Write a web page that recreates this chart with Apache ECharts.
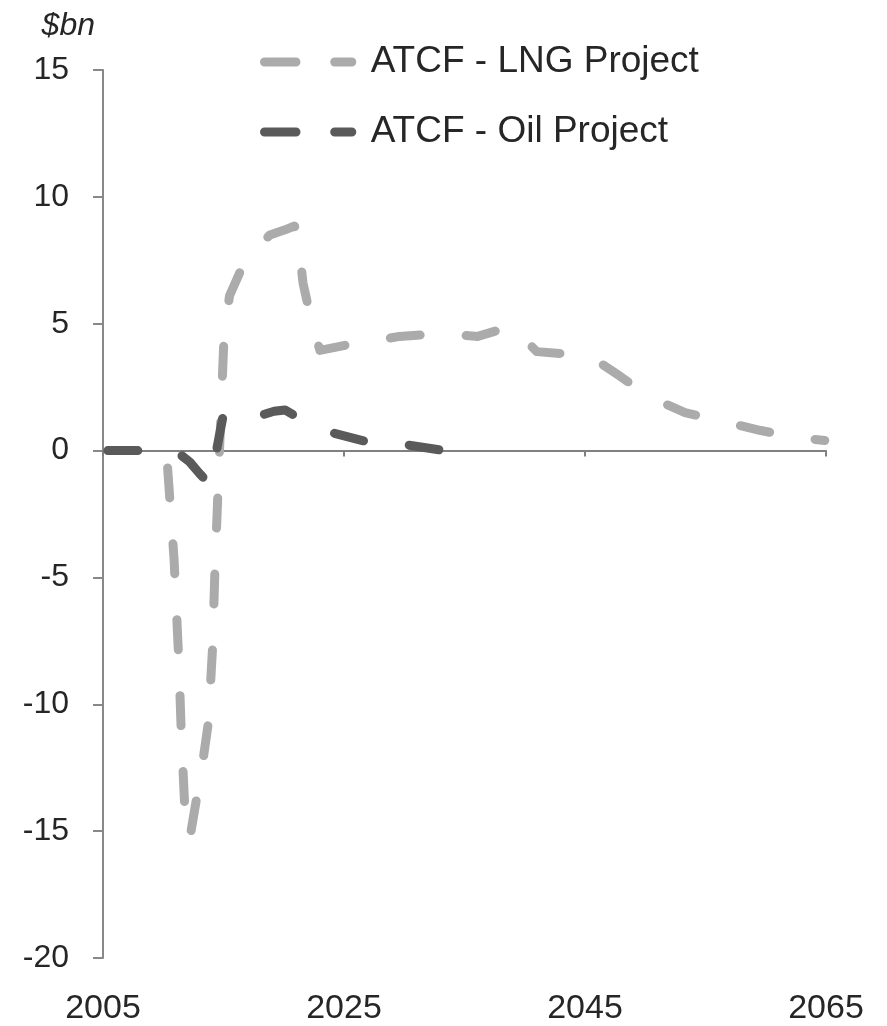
<!DOCTYPE html>
<html>
<head>
<meta charset="utf-8">
<script src="https://cdn.jsdelivr.net/npm/echarts@6/dist/echarts.min.js"></script>
<style>
html,body{margin:0;padding:0;background:#fff;}
#chart{width:887px;height:1026px;}
</style>
</head>
<body>
<div id="chart"></div>
<script>
const baseYear = 2005;
const xTickLabels = ['2005', '2025', '2045', '2065'];
const yTicks = [-20, -15, -10, -5, 0, 5, 10, 15];

const lngYears = [2010.0, 2010.35, 2010.9, 2011.3, 2011.5, 2011.8, 2012.2, 2013.3, 2013.75, 2014.1, 2014.3, 2014.55, 2014.8, 2015.05, 2015.5, 2016.8, 2018.85, 2020.1, 2020.9, 2021.2, 2021.6, 2022.2, 2023.0, 2025.1, 2026.7, 2029.6, 2033.0, 2036.1, 2038.9, 2041.0, 2045.0, 2045.5, 2047.7, 2050.4, 2053.3, 2056.4, 2059.5, 2062.7, 2064.9];
const lngValues = [0, -0.6, -4.3, -8.4, -11.2, -14.2, -15.3, -12.2, -10.7, -7.7, -4.5, -1.5, 1.6, 4.6, 6.1, 7.5, 8.5, 8.7, 8.85, 8.3, 6.6, 5.3, 3.95, 4.15, 4.25, 4.5, 4.6, 4.5, 4.9, 3.9, 3.75, 3.7, 3.0, 2.1, 1.5, 1.15, 0.8, 0.5, 0.4];

const oilYears = [2005.4, 2011.0, 2012.2, 2013.0, 2013.5, 2013.9, 2015.0, 2017.8, 2019.2, 2020.1, 2021.0, 2023.8, 2027.0, 2029.9, 2033.3];
const oilValues = [0, 0, -0.45, -0.9, -1.15, -1.3, 1.45, 1.35, 1.55, 1.6, 1.35, 0.73, 0.34, 0.25, 0.0];

const seriesNames = ['ATCF - LNG Project', 'ATCF - Oil Project'];
const seriesColors = ['#ababab', '#5a5a5a'];

function pairs(xs, ys) { return xs.map((x, i) => [x - baseYear, ys[i]]); }

const chart = echarts.init(document.getElementById('chart'), null, {renderer: 'canvas'});
const font = '"Liberation Sans", Arial, sans-serif';
const lineCommon = (color, offset) => ({color: color, width: 9, type: [30, 46], dashOffset: offset, cap: 'round', join: 'round'});
const legendIconPath = 'path://M5,0 L40,0 A5,5 0 0 1 40,10 L5,10 A5,5 0 0 1 5,0 Z M83,0 L102,0 A5,5 0 0 1 102,10 L83,10 A5,5 0 0 1 83,0 Z';

chart.setOption({
  animation: false,
  backgroundColor: '#ffffff',
  grid: {left: 103, right: 61, top: 70, bottom: 68, containLabel: false},
  legend: {
    orient: 'vertical',
    left: 255,
    top: 37,
    itemWidth: 107,
    itemHeight: 9,
    itemGap: 30,
    icon: legendIconPath,
    data: seriesNames,
    textStyle: {fontFamily: font, fontSize: 37, color: '#262626', lineHeight: 40, padding: [0, 0, 0, 4]}
  },
  xAxis: [
    {
      type: 'value', min: 0, max: 60, interval: 20,
      axisLine: {show: true, onZero: true, lineStyle: {color: '#808080', width: 2}},
      axisTick: {show: true, length: 6, lineStyle: {color: '#808080', width: 2}},
      axisLabel: {show: false},
      splitLine: {show: false}
    },
    {
      type: 'value', min: 0, max: 60, interval: 20, position: 'bottom',
      axisLine: {show: false, onZero: false},
      axisTick: {show: false},
      axisLabel: {show: true, margin: 34, fontFamily: font, fontSize: 34, color: '#262626',
        formatter: (v) => xTickLabels[Math.round(v / 20)] || ''},
      splitLine: {show: false}
    }
  ],
  yAxis: {
    type: 'value', min: yTicks[0], max: yTicks[yTicks.length - 1], interval: 5,
    name: '$bn', nameLocation: 'end', nameGap: 28,
    nameTextStyle: {fontFamily: font, fontSize: 32, fontStyle: 'italic', color: '#262626', align: 'right', padding: [0, 8, 0, 0]},
    axisLine: {show: true, lineStyle: {color: '#888888', width: 2}},
    axisTick: {show: true, length: 10, lineStyle: {color: '#888888', width: 2}},
    axisLabel: {margin: 34, fontFamily: font, fontSize: 32, color: '#262626'},
    splitLine: {show: false}
  },
  series: [
    {
      name: seriesNames[0], type: 'line', xAxisIndex: 0, symbol: 'none', smooth: false,
      data: pairs(lngYears, lngValues),
      itemStyle: {color: seriesColors[0]},
      lineStyle: lineCommon(seriesColors[0], 58),
      z: 2
    },
    {
      name: seriesNames[1], type: 'line', xAxisIndex: 0, symbol: 'none', smooth: false,
      data: pairs(oilYears, oilValues),
      itemStyle: {color: seriesColors[1]},
      lineStyle: lineCommon(seriesColors[1], 0),
      z: 3
    }
  ]
});
</script>
</body>
</html>
